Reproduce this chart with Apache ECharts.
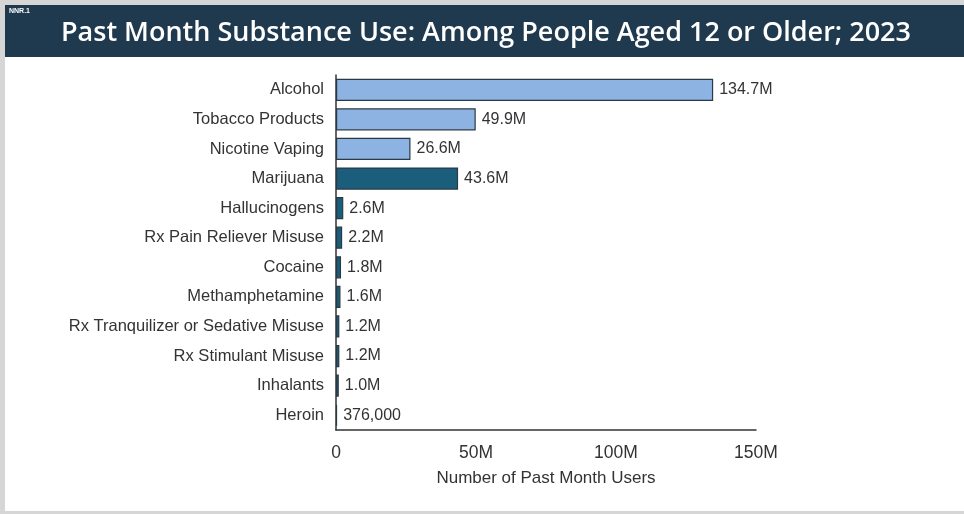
<!DOCTYPE html>
<html><head><meta charset="utf-8">
<script src="https://cdn.jsdelivr.net/npm/echarts@6/dist/echarts.min.js"></script>
<style>html,body{margin:0;padding:0;background:#fff}#c{width:964px;height:514px}</style>
</head><body><div id="c"></div>
<script>
const categories = ["Alcohol","Tobacco Products","Nicotine Vaping","Marijuana","Hallucinogens","Rx Pain Reliever Misuse","Cocaine","Methamphetamine","Rx Tranquilizer or Sedative Misuse","Rx Stimulant Misuse","Inhalants","Heroin"];
const values = [134.7,49.9,26.6,43.6,2.6,2.2,1.8,1.6,1.2,1.2,1.0,0.376];
const valueLabels = ["134.7M","49.9M","26.6M","43.6M","2.6M","2.2M","1.8M","1.6M","1.2M","1.2M","1.0M","376,000"];
const lightGroup = ["Alcohol","Tobacco Products","Nicotine Vaping"];
const xTicks = [0,50,100,150];

const chart = echarts.init(document.getElementById('c'));
const font = 'Liberation Sans, Arial, sans-serif';
chart.setOption({
  backgroundColor: '#fff',
  animation: false,
  graphic: [
    {type:'rect', left:0, top:0, shape:{width:964,height:514}, style:{fill:'#d6d6d6'}, z:-10},
    {type:'rect', left:5, top:5, shape:{width:959,height:506}, style:{fill:'#ffffff'}, z:-9},
    {type:'rect', left:5, top:5, shape:{width:959,height:52}, style:{fill:'#1f3a4f'}, z:-8},
    {type:'text', left:9, top:8, style:{text:'NNR.1', fill:'#fff', font:'bold 7px Liberation Sans, Arial'}, z:5},
    {type:'text', x:486, y:33, style:{text:'Past Month Substance Use: Among People Aged 12 or Older; 2023', fill:'#fff', font:'600 27px "Open Sans", sans-serif', align:'center', verticalAlign:'middle'}, z:5}
  ],
  grid: {left:336, right:208, top:75, bottom:84, containLabel:false},
  xAxis: {
    type:'value', min:0, max:150, interval:50,
    axisLine:{show:true, lineStyle:{color:'#333', width:1.5}},
    axisTick:{show:false}, splitLine:{show:false},
    axisLabel:{color:'#333', fontSize:17.5, fontFamily:font, margin:14, formatter:v => v===0 ? '0' : v+'M'},
    name:'Number of Past Month Users', nameLocation:'middle', nameGap:40,
    nameTextStyle:{color:'#333', fontSize:17, fontFamily:font}
  },
  yAxis: {
    type:'category', data:categories, inverse:true,
    axisLine:{show:true, lineStyle:{color:'#333', width:1.5}},
    axisTick:{show:false},
    axisLabel:{color:'#333', fontSize:16.5, fontFamily:font, margin:12}
  },
  series: [{
    type:'bar', barCategoryGap:'25%',
    data: values.map((v,i)=>({value:v, itemStyle:{color: lightGroup.includes(categories[i]) ? '#8db3e2' : '#1b5e7c'}})),
    itemStyle:{borderColor:'#2a3a44', borderWidth:1.2},
    label:{show:true, position:'right', distance:6, color:'#333', fontSize:16, fontFamily:font,
      formatter: p => valueLabels[p.dataIndex]}
  }]
});
</script></body></html>
